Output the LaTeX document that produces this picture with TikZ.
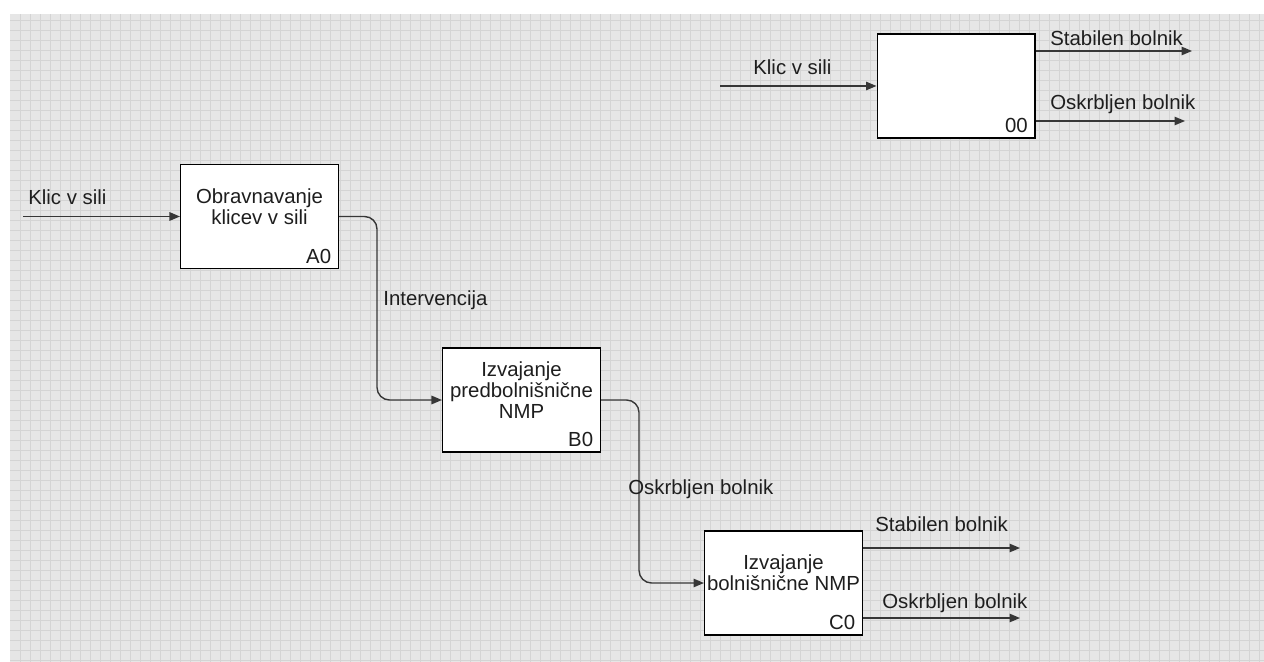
\documentclass[tikz,border=0pt]{standalone}
\usepackage{fontspec}
\setmainfont{Liberation Sans}
\usepackage{xcolor}
\usepackage{tikz}
\usetikzlibrary{arrows.meta,positioning,calc}
\definecolor{gridbg}{RGB}{230,230,230}
\definecolor{gridline}{RGB}{212,212,212}
\definecolor{flowgray}{RGB}{55,55,55}
\definecolor{textgray}{RGB}{30,30,30}

\begin{document}
\begin{tikzpicture}[x=0.02cm,y=-0.02cm,
	font=\fontsize{11.6}{12}\selectfont,text=textgray,
	box/.style={draw=black,fill=white,line width=0.6pt,minimum width=3.16cm,minimum height=2.08cm,inner sep=0pt},
	boxtext/.style={align=center,inner sep=0pt},
	boxid/.style={anchor=south east,inner sep=0pt,xshift=-0.15cm,yshift=0.1cm},
	flow/.style={draw=flowgray,line width=0.8pt,-{Triangle[length=2.1mm,width=1.7mm]},rounded corners=0.25cm},
	lbl/.style={anchor=west,inner sep=0pt}]
	\useasboundingbox (0,0) rectangle (1264,662);
	\fill[gridbg] (10,14) rectangle (1264,662);
	\draw[gridline,line width=0.35pt,step=0.2cm] (10,14) grid (1264,662);

	\node[box] (box00) at (956,86) {};
	\node[boxid] (id00) at (box00.south east) {00};
	\coordinate (in00) at (720,86);
	\coordinate (outS00) at (1192,51);
	\coordinate (outO00) at (1185,121);
	\draw[flow] (in00) -- (box00.west);
	\draw[flow] (box00.east |- outS00) -- (outS00);
	\draw[flow] (box00.east |- outO00) -- (outO00);
	\node[lbl] (lblIn00) at (753,67) {Klic v sili};
	\node[lbl] (lblS00) at (1050,38) {Stabilen bolnik};
	\node[lbl] (lblO00) at (1050,104) {Oskrbljen bolnik};

	\node[box] (boxA) at (259.5,216.5) {};
	\node[boxtext] (txtA) at ($(boxA.center)+(0,-10)$) {Obravnavanje\\klicev v sili};
	\node[boxid] (idA) at (boxA.south east) {A0};
	\coordinate (inA) at (23,216.5);
	\draw[flow] (inA) -- (boxA.west);
	\node[lbl] (lblInA) at (28,197) {Klic v sili};

	\node[box] (boxB) at (521.5,400) {};
	\node[boxtext] (txtB) at ($(boxB.center)+(0,-10)$) {Izvajanje\\predbolnišnične\\NMP};
	\node[boxid] (idB) at (boxB.south east) {B0};
	\draw[flow] (boxA.east) -- ++(38,0) |- (boxB.west);
	\node[lbl] (lblInt) at (383,300) {Intervencija};

	\node[box] (boxC) at (783.5,583) {};
	\node[boxtext] (txtC) at ($(boxC.center)+(0,-10)$) {Izvajanje\\bolnišnične NMP};
	\node[boxid] (idC) at (boxC.south east) {C0};
	\draw[flow] (boxB.east) -- ++(38,0) |- (boxC.west);
	\node[lbl] (lblOB) at (628,489) {Oskrbljen bolnik};
	\coordinate (outSC) at (1020,548);
	\coordinate (outOC) at (1020,618);
	\draw[flow] (boxC.east |- outSC) -- (outSC);
	\draw[flow] (boxC.east |- outOC) -- (outOC);
	\node[lbl] (lblSC) at (875,524) {Stabilen bolnik};
	\node[lbl] (lblOC) at (882,603) {Oskrbljen bolnik};
\end{tikzpicture}
\end{document}
